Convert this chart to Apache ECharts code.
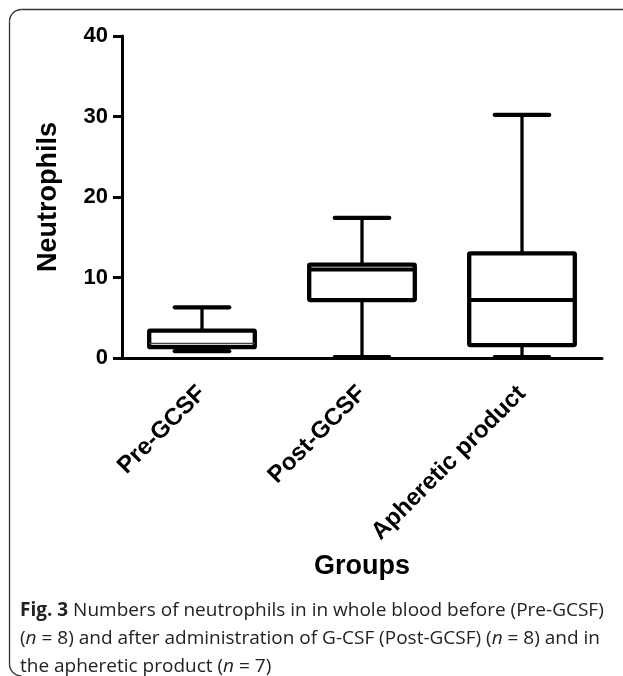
<!DOCTYPE html>
<html>
<head>
<meta charset="utf-8">
<script src="https://cdn.jsdelivr.net/npm/echarts@6/dist/echarts.min.js"></script>
<style>
  html, body { margin: 0; padding: 0; background: #fff; }
  #chart { width: 623px; height: 676px; }
</style>
</head>
<body>
<div id="chart"></div>
<script>
const groups = ["Pre-GCSF", "Post-GCSF", "Apheretic product"];
const minValues = [0.85, 0.1, 0.1];
const q1Values = [1.35, 7.2, 1.6];
const medianValues = [1.8, 11.0, 7.2];
const q3Values = [3.4, 11.6, 13.0];
const maxValues = [6.3, 17.4, 30.2];
const yTicks = [0, 10, 20, 30, 40];

const boxData = groups.map((g, i) => [
  i, minValues[i], q1Values[i], medianValues[i], q3Values[i], maxValues[i],
]);

function renderBox(params, api) {
  const idx = api.value(0);
  const band = api.size([1, 0])[0];
  const half = band * 0.33;
  const capHalf = band * 0.17;
  const pMin = api.coord([idx, api.value(1)]);
  const pQ1 = api.coord([idx, api.value(2)]);
  const pMed = api.coord([idx, api.value(3)]);
  const pQ3 = api.coord([idx, api.value(4)]);
  const pMax = api.coord([idx, api.value(5)]);
  const x = pMed[0];
  const boxH = pQ1[1] - pQ3[1];
  // short boxes get a thinner median, as in the original
  const medW = boxH < 25 ? 1.5 : 4;
  const stroke = "#000";
  return {
    type: "group",
    children: [
      {
        type: "line",
        shape: { x1: x, y1: pMax[1], x2: x, y2: pQ3[1] },
        style: { stroke, lineWidth: 3.3 },
      },
      {
        type: "line",
        shape: { x1: x, y1: pQ1[1], x2: x, y2: pMin[1] },
        style: { stroke, lineWidth: 3.3 },
      },
      {
        type: "line",
        shape: { x1: x - capHalf, y1: pMax[1], x2: x + capHalf, y2: pMax[1] },
        style: { stroke, lineWidth: 4.3, lineCap: "round" },
      },
      {
        type: "line",
        shape: { x1: x - capHalf, y1: pMin[1], x2: x + capHalf, y2: pMin[1] },
        style: { stroke, lineWidth: 4.3, lineCap: "round" },
      },
      {
        type: "rect",
        shape: { x: x - half, y: pQ3[1], width: half * 2, height: boxH, r: 1 },
        style: { stroke, fill: "#fff", lineWidth: 4.3, lineJoin: "round" },
      },
      {
        type: "line",
        shape: { x1: x - half, y1: pMed[1], x2: x + half, y2: pMed[1] },
        style: { stroke: medW < 2 ? "#444" : stroke, lineWidth: medW },
      },
    ],
  };
}

// figure frame: only the top and left edges are visible in the crop
const frameStyle = { fill: null, stroke: "#333", lineWidth: 1.3 };
const frame = [
  { type: "line", shape: { x1: 21.5, y1: 9.5, x2: 640, y2: 9.5 }, style: frameStyle, silent: true },
  { type: "line", shape: { x1: 9.5, y1: 21.5, x2: 9.5, y2: 664 }, style: frameStyle, silent: true },
  {
    type: "arc",
    shape: { cx: 21.5, cy: 21.5, r: 12, startAngle: Math.PI, endAngle: Math.PI * 1.5 },
    style: frameStyle,
    silent: true,
  },
  {
    type: "arc",
    shape: { cx: 21.5, cy: 664, r: 12, startAngle: Math.PI * 0.5, endAngle: Math.PI },
    style: frameStyle,
    silent: true,
  },
];

const chart = echarts.init(document.getElementById("chart"));
const option = {
  animation: false,
  grid: { left: 122, right: 21, top: 36, bottom: 318 },
  xAxis: {
    type: "category",
    data: groups,
    boundaryGap: true,
    name: "Groups",
    nameLocation: "middle",
    nameGap: 195,
    nameTextStyle: {
      color: "#000",
      fontFamily: "Liberation Sans",
      fontWeight: "bold",
      fontSize: 27,
    },
    axisLine: { lineStyle: { color: "#000", width: 3 } },
    axisTick: {
      alignWithLabel: true,
      length: 10,
      lineStyle: { color: "#000", width: 3 },
    },
    axisLabel: {
      rotate: 45,
      margin: 32,
      color: "#000",
      fontFamily: "Liberation Sans",
      fontWeight: "bold",
      fontSize: 24,
      interval: 0,
    },
  },
  yAxis: {
    type: "value",
    min: 0,
    max: 40,
    interval: 10,
    name: "Neutrophils",
    nameLocation: "middle",
    nameGap: 60,
    nameTextStyle: {
      color: "#000",
      fontFamily: "Liberation Sans",
      fontWeight: "bold",
      fontSize: 27,
    },
    splitLine: { show: false },
    axisLine: { show: true, lineStyle: { color: "#000", width: 3 } },
    axisTick: { show: true, length: 9, lineStyle: { color: "#000", width: 3 } },
    axisLabel: {
      margin: 14,
      color: "#000",
      fontFamily: "Liberation Sans",
      fontWeight: "bold",
      fontSize: 22,
      customValues: yTicks,
    },
  },
  series: [
    {
      type: "custom",
      renderItem: renderBox,
      data: boxData,
      encode: { x: 0, y: [1, 2, 3, 4, 5] },
      clip: false,
    },
  ],
  graphic: frame.concat([
    {
      type: "text",
      left: 20,
      top: 597,
      style: {
        text:
          "{b|Fig. 3} Numbers of neutrophils in in whole blood before (Pre-GCSF)\n" +
          "({i|n} = 8) and after administration of G-CSF (Post-GCSF) ({i|n} = 8) and in\n" +
          "the apheretic product ({i|n} = 7)",
        fontFamily: "Open Sans",
        fontSize: 19,
        lineHeight: 28,
        fill: "#222",
        rich: {
          b: { fontFamily: "Open Sans", fontWeight: "bold", fontSize: 19, fill: "#222", lineHeight: 28 },
          i: { fontFamily: "Open Sans", fontStyle: "italic", fontSize: 19, fill: "#222", lineHeight: 28 },
        },
      },
    },
  ]),
};
chart.setOption(option);
</script>
</body>
</html>
